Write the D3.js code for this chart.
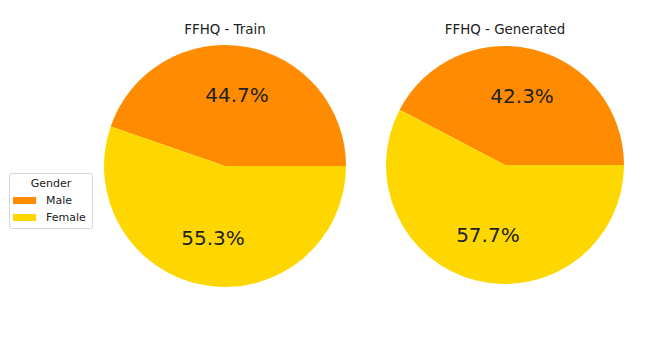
<!DOCTYPE html>
<html>
<head>
<meta charset="utf-8">
<script src="https://cdn.jsdelivr.net/npm/d3@7"></script>
<style>
  body { margin: 0; background: #fff; }
  svg { display: block; font-family: "DejaVu Sans", sans-serif; }
</style>
</head>
<body>
<div class="chart"></div>
<script>
var categories = ["Male", "Female"];
var titles = ["FFHQ - Train", "FFHQ - Generated"];
var trainValues = [44.7, 55.3];
var generatedValues = [42.3, 57.7];

var width = 664, height = 337;

var color = d3.scaleOrdinal()
    .domain(categories)
    .range(["#ff8c00", "#ffd700"]);

var svg = d3.select(".chart").append("svg")
    .attr("width", width)
    .attr("height", height);

// matplotlib style: start at 3 o'clock, go counterclockwise
var pie = d3.pie()
    .sort(null)
    .startAngle(Math.PI / 2)
    .endAngle(Math.PI / 2 - 2 * Math.PI);

var panels = [
  { title: titles[0], values: trainValues, cx: 225, cy: 166, r: 121 },
  { title: titles[1], values: generatedValues, cx: 505, cy: 165, r: 119 }
];

panels.forEach(function(p) {
  var g = svg.append("g")
      .attr("transform", "translate(" + p.cx + "," + p.cy + ")");

  var arc = d3.arc().innerRadius(0).outerRadius(p.r);
  var labelArc = d3.arc().innerRadius(p.r * 0.6).outerRadius(p.r * 0.6);

  var data = pie(p.values.map(function(v, i) { return { key: categories[i], value: v }; })
    .map(function(d) { return d.value; }));

  g.selectAll(".slice")
      .data(data)
    .enter().append("path")
      .attr("class", "slice")
      .attr("d", arc)
      .style("fill", function(d, i) { return color(categories[i]); });

  g.selectAll(".pct")
      .data(data)
    .enter().append("text")
      .attr("class", "pct")
      .attr("transform", function(d) { return "translate(" + labelArc.centroid(d) + ")"; })
      .attr("dy", ".36em")
      .style("text-anchor", "middle")
      .style("font-size", "20px")
      .style("fill", "#222")
      .text(function(d) { return d.value.toFixed(1) + "%"; });

  svg.append("text")
      .attr("x", p.cx)
      .attr("y", 34)
      .style("text-anchor", "middle")
      .style("font-size", "13.4px")
      .style("fill", "#222")
      .text(p.title);
});

// legend
var legend = svg.append("g")
    .attr("transform", "translate(9,173)");

legend.append("rect")
    .attr("x", 0.5)
    .attr("y", 0.5)
    .attr("width", 83)
    .attr("height", 55)
    .attr("rx", 2)
    .style("fill", "#fff")
    .style("stroke", "#d5d5d5");

legend.append("text")
    .attr("x", 42)
    .attr("y", 14)
    .style("text-anchor", "middle")
    .style("font-size", "11px")
    .style("fill", "#222")
    .text("Gender");

var items = legend.selectAll(".legend")
    .data(categories)
  .enter().append("g")
    .attr("class", "legend")
    .attr("transform", function(d, i) { return "translate(0," + (27 + i * 17) + ")"; });

items.append("rect")
    .attr("x", 4)
    .attr("y", -3)
    .attr("width", 23)
    .attr("height", 7)
    .style("fill", color);

items.append("text")
    .attr("x", 37)
    .attr("y", 0)
    .attr("dy", ".35em")
    .style("font-size", "11px")
    .style("fill", "#222")
    .text(function(d) { return d; });
</script>
</body>
</html>
